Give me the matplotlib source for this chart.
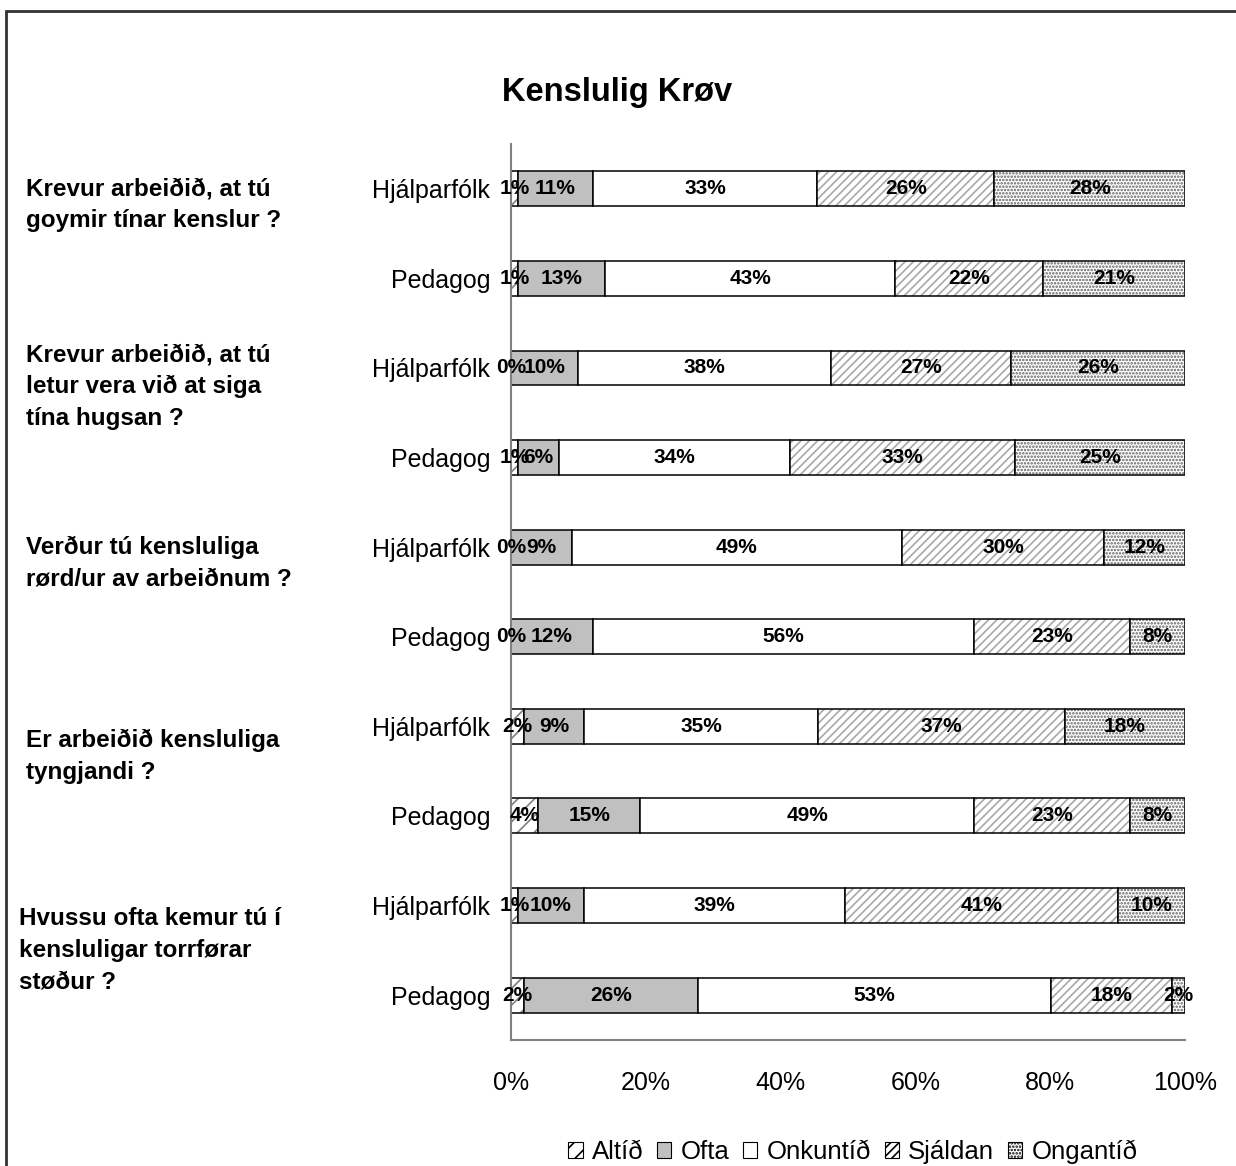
import numpy as np
import matplotlib
matplotlib.use("Agg")
import matplotlib.pyplot as plt
from matplotlib.patches import Rectangle, Patch

plt.rcParams['font.family'] = ['Liberation Sans', 'DejaVu Sans']
plt.rcParams['hatch.linewidth'] = 1.2

# answers in the order they are stacked
answers = ["Altíð", "Ofta", "Onkuntíð", "Sjáldan", "Ongantíð"]
groups = ["Hjálparfólk", "Pedagog"] * 5
questions = [
    "Krevur arbeiðið, at tú\ngoymir tínar kenslur ?",
    "Krevur arbeiðið, at tú\nletur vera við at siga\ntína hugsan ?",
    "Verður tú kensluliga\nrørd/ur av arbeiðnum ?",
    "Er arbeiðið kensluliga\ntyngjandi ?",
    "Hvussu ofta kemur tú í\nkensluligar torrførar\nstøður ?",
]

# percent per bar, top to bottom
altid    = [1, 1, 0, 1, 0, 0, 2, 4, 1, 2]
ofta     = [11, 13, 10, 6, 9, 12, 9, 15, 10, 26]
onkuntid = [33, 43, 38, 34, 49, 56, 35, 49, 39, 53]
sjaldan  = [26, 22, 27, 33, 30, 23, 37, 23, 41, 18]
ongantid = [28, 21, 26, 25, 12, 8, 18, 8, 10, 2]

series = [altid, ofta, onkuntid, sjaldan, ongantid]
styles = [
    dict(facecolor="white", hatch="//", hcolor="#808080"),
    dict(facecolor="#c0c0c0", hatch=None, hcolor=None),
    dict(facecolor="white", hatch=None, hcolor=None),
    dict(facecolor="white", hatch="////", hcolor="#a8a8a8"),
    dict(facecolor="white", hatch=".....", hcolor="#606060"),
]

data = np.array(series, dtype=float)
shares = data / data.sum(axis=0)
y = np.arange(len(groups))

fig = plt.figure(figsize=(12.36, 11.66), dpi=100)
ax = fig.add_axes([0.4134, 0.1081, 0.5453, 0.7684])

left = np.zeros(len(groups))
for vals, share, st in zip(series, shares, styles):
    if st["hatch"]:
        ax.barh(y, share, left=left, height=0.39, color=st["facecolor"],
                hatch=st["hatch"], edgecolor=st["hcolor"], linewidth=0)
        ax.barh(y, share, left=left, height=0.39, fill=False,
                edgecolor="black", linewidth=1.1)
    else:
        ax.barh(y, share, left=left, height=0.39, color=st["facecolor"],
                edgecolor="black", linewidth=1.1)
    for yi, l, s, v in zip(y, left, share, vals):
        ax.text(l + s / 2, yi, f"{v}%", ha="center", va="center",
                fontsize=15, fontweight="bold")
    left += share

ax.set_xlim(0, 1)
ax.set_ylim(len(groups) - 0.5, -0.5)
ax.set_yticks(y)
ax.set_yticklabels(groups, fontsize=18)
ax.set_xticks(np.linspace(0, 1, 6))
ax.set_xticklabels([f"{int(t)}%" for t in np.linspace(0, 100, 6)], fontsize=18)
ax.tick_params(axis="y", length=0, pad=15)
ax.tick_params(axis="x", length=0, pad=22)
for side in ["top", "right"]:
    ax.spines[side].set_visible(False)
for side in ["left", "bottom"]:
    ax.spines[side].set_color("#808080")
    ax.spines[side].set_linewidth(1.5)

# question text next to each pair of bars
q_rows = [0.18, 2.21, 4.18, 6.33, 8.5]
q_x = [26, 26, 26, 26, 19]
for q, row, px in zip(questions, q_rows, q_x):
    yd = ax.transData.transform((0, row))[1]
    yf = fig.transFigure.inverted().transform((0, yd))[1]
    fig.text(px / 1236, yf, q, ha="left", va="center", fontsize=17.5,
             fontweight="bold", linespacing=1.5)

fig.text(0.499, 0.921, "Kenslulig Krøv", ha="center", va="center",
         fontsize=23.5, fontweight="bold")

handles = []
for name, st in zip(answers, styles):
    handles.append(Patch(facecolor=st["facecolor"], hatch=st["hatch"],
                         edgecolor="black", linewidth=0.8, label=name))
fig.legend(handles=handles, loc="center", bbox_to_anchor=(0.69, 0.012),
           ncol=5, frameon=False, fontsize=18.5, handlelength=0.55,
           handleheight=0.55, handletextpad=0.35, columnspacing=0.55)

# outer chart frame
fig.patches.append(Rectangle((6 / 1236, -0.1), 1.2, 1.1 - 11 / 1166,
                             transform=fig.transFigure, fill=False,
                             edgecolor="#333333", linewidth=2))

fig.savefig("out.png", dpi=100)
